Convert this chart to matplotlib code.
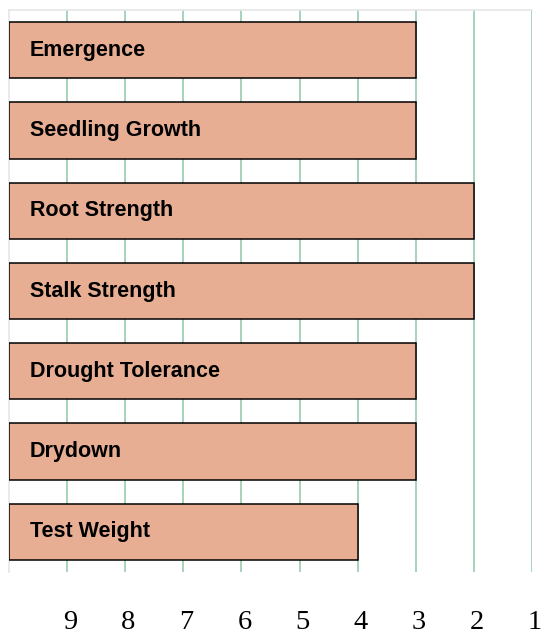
import matplotlib
matplotlib.use("Agg")
import matplotlib.pyplot as plt
import matplotlib.transforms as mtransforms

traits = ["Emergence", "Seedling Growth", "Root Strength", "Stalk Strength",
          "Drought Tolerance", "Drydown", "Test Weight"]
scores = [3, 3, 2, 2, 3, 3, 4]
ticks = [9, 8, 7, 6, 5, 4, 3, 2, 1]

BAR_COLOR = "#E8AE93"
GRID_COLOR = "#A6D3BB"

fig = plt.figure(figsize=(5.48, 6.35), dpi=100)
ax = fig.add_axes([9 / 548, 1 - 572 / 635, 523 / 548, 562 / 635])

ypos = list(range(len(traits)))
left = 10
ax.barh(ypos, [s - left for s in scores], left=left, height=0.7,
        color=BAR_COLOR, edgecolor="black", linewidth=1.1, zorder=3)

for y, name in zip(ypos, traits):
    ax.text(9.64, y, name, ha="left", va="center", fontsize=15.5,
            fontweight="bold", family="Liberation Sans", color="black", zorder=4)

ax.set_xlim(10, 1)
ax.set_ylim(len(traits) - 0.5, -0.5)
ax.set_xticks(ticks)
ax.set_xticklabels([str(t) for t in ticks], family="Liberation Serif", fontsize=20.5)
ax.tick_params(axis="x", length=0, pad=27.5)
shift = mtransforms.ScaledTranslation(3 / 100, 0, fig.dpi_scale_trans)
for lbl in ax.get_xticklabels():
    lbl.set_transform(lbl.get_transform() + shift)
ax.set_yticks([])
ax.grid(axis="x", color=GRID_COLOR, linewidth=1.4, zorder=0)

for side in ["right", "bottom"]:
    ax.spines[side].set_visible(False)
for side in ["top", "left"]:
    ax.spines[side].set_color("#E6E6E6")
    ax.spines[side].set_linewidth(1.2)

fig.savefig("out.png", dpi=100)
